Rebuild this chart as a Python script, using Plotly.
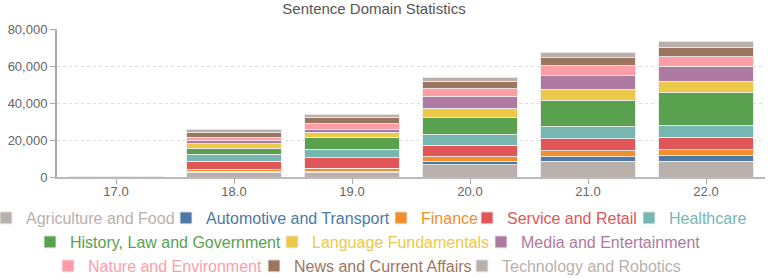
import plotly.graph_objects as go

categories = ["17.0", "18.0", "19.0", "20.0", "21.0", "22.0"]

agriculture = [60, 2540, 2540, 6650, 8480, 8650]
automotive = [20, 540, 700, 1620, 2490, 3060]
finance = [20, 1240, 1460, 2700, 3250, 3060]
service = [30, 4160, 5730, 6160, 6480, 6670]
healthcare = [30, 3950, 4510, 5730, 6330, 6490]
history = [40, 3240, 6500, 9190, 14590, 17640]
language = [30, 2330, 2700, 5240, 5940, 6130]
media = [20, 1620, 1800, 6110, 7200, 8120]
nature = [20, 1820, 2870, 4330, 5400, 5210]
news = [40, 2880, 3240, 4160, 4330, 4870]
technology = [20, 1460, 1840, 1990, 3070, 3450]

series_names = [
    "Agriculture and Food", "Automotive and Transport", "Finance", "Service and Retail",
    "Healthcare", "History, Law and Government", "Language Fundamentals",
    "Media and Entertainment", "Nature and Environment", "News and Current Affairs",
    "Technology and Robotics",
]
series_values = [agriculture, automotive, finance, service, healthcare, history,
                 language, media, nature, news, technology]
colors = ["#bab0ab", "#4e79a7", "#f28e2c", "#e15759", "#76b7b2", "#59a14f",
          "#edc949", "#af7aa1", "#ff9da7", "#9c755f", "#bab0ab"]

# legend entry placement (pixel position where the entry text starts, row centre)
legend_text_x = [26, 206, 421, 507, 669, 70, 312, 521, 88, 294, 502]
legend_row_y = [218] * 5 + [242] * 3 + [266] * 3

W, H = 770, 279
ML, MR, MT, MB = 57, 5, 29, 102
fig = go.Figure()
layout_legends = {}
for i, (name, vals, col) in enumerate(zip(series_names, series_values, colors)):
    key = "legend" if i == 0 else f"legend{i + 1}"
    fig.add_trace(go.Bar(
        x=categories, y=vals,
        name=f"<span style='color:{col}'>{name}</span>",
        marker=dict(color=col, line=dict(color="rgba(235,235,235,0.9)", width=1)),
        legend=key,
    ))
    layout_legends[key] = dict(
        orientation="h", xref="paper", yref="container",
        x=(legend_text_x[i] - 40 - ML) / (W - ML - MR), xanchor="left",
        y=1 - legend_row_y[i] / H, yanchor="middle",
        font=dict(family="Liberation Sans, Arial, sans-serif", size=16),
        bgcolor="rgba(0,0,0,0)", borderwidth=0, itemclick=False,
    )

fig.update_layout(
    barmode="stack",
    bargap=0.2,
    width=W, height=H,
    margin=dict(l=ML, r=MR, t=MT, b=MB, autoexpand=False),
    paper_bgcolor="white", plot_bgcolor="white",
    font=dict(family="Liberation Sans, Arial, sans-serif", color="#666"),
    title=dict(text="Sentence Domain Statistics", x=374 / W, xref="container", xanchor="center",
               y=1 - 9 / H, yref="container", yanchor="middle",
               font=dict(size=15, color="#555")),
    showlegend=True,
    **layout_legends,
)
fig.update_yaxes(range=[0, 80000], tickvals=[0, 20000, 40000, 60000, 80000],
                 ticktext=["0", "20,000", "40,000", "60,000", "80,000"],
                 showline=True, linecolor="#aaa", linewidth=2,
                 ticks="outside", ticklen=5, tickcolor="#aaa", tickwidth=1,
                 showgrid=True, gridcolor="#ddd", griddash="dot", gridwidth=1,
                 zeroline=False, tickfont=dict(size=13, color="#666"))
fig.update_xaxes(showline=True, linecolor="#bbb", linewidth=2,
                 ticks="outside", ticklen=5, tickcolor="#aaa", tickwidth=1,
                 ticklabelstandoff=-4,
                 showgrid=False, tickfont=dict(size=13, color="#666"))

fig.write_html("out.html", config={"displayModeBar": False},
               post_script="document.body.style.margin='0';")
